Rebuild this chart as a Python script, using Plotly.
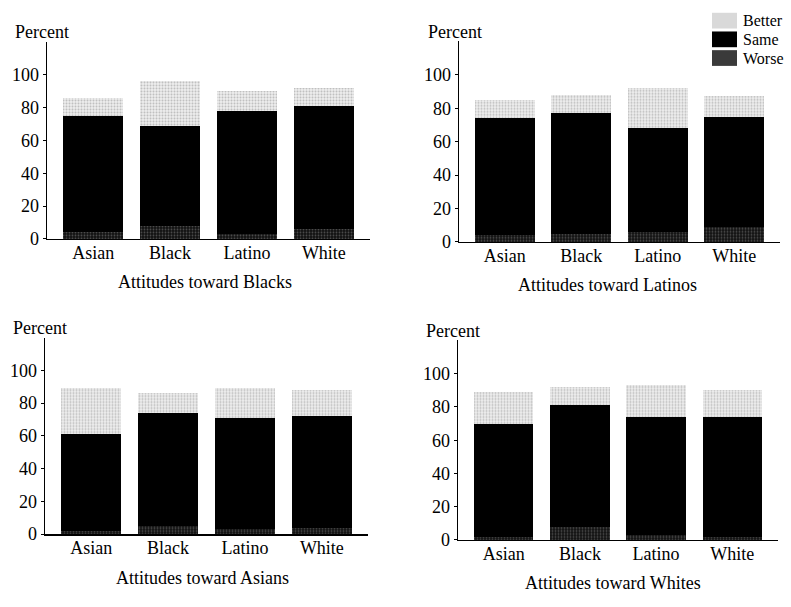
import plotly.graph_objects as go

W, H = 791, 607

groups = ["Asian", "Black", "Latino", "White"]
panel_titles = ["Attitudes toward Blacks", "Attitudes toward Latinos",
                "Attitudes toward Asians", "Attitudes toward Whites"]
legend_labels = ["Better", "Same", "Worse"]

# Segment values (percent) per panel, in order of groups
worse_blacks = [4, 8, 3, 6]
same_blacks = [71, 61, 75, 75]
better_blacks = [11, 27, 12, 11]

worse_latinos = [4, 5, 6, 9]
same_latinos = [70, 72, 62, 66]
better_latinos = [11, 11, 24, 12]

worse_asians = [2, 5, 3, 4]
same_asians = [59, 69, 68, 68]
better_asians = [28, 12, 18, 16]

worse_whites = [2, 8, 3, 2]
same_whites = [68, 73, 71, 72]
better_whites = [19, 11, 19, 16]

y_ticks = [0, 20, 40, 60, 80, 100]

panels = [
    (worse_blacks, same_blacks, better_blacks),
    (worse_latinos, same_latinos, better_latinos),
    (worse_asians, same_asians, better_asians),
    (worse_whites, same_whites, better_whites),
]

# layout geometry in pixels: (x_left, x_right, y_zero, y_100)
geom = [
    (47, 370, 243, 76),
    (459, 780, 246, 76),
    (45, 368, 543, 376.5),
    (458, 778, 549, 380),
]
percent_pos = [(13, 33), (426, 33), (11, 333), (424, 337)]
title_pos = [(205, 287), (607, 290), (202, 588), (613, 593)]

FONT = "Liberation Serif"

BETTER_C = "#f0f0f0"
SAME_C = "#000000"
WORSE_C = "#111111"


def px(x):
    return x / W


def py(y):
    return 1 - y / H


fig = go.Figure()

better_pat = dict(shape=".", fgcolor="#8a8a8a", bgcolor=BETTER_C, size=3, solidity=0.4)
worse_pat = dict(shape=".", fgcolor="#8c8c8c", bgcolor=WORSE_C, size=3, solidity=0.3)

for i, (worse, same, better) in enumerate(panels):
    xa = "x" if i == 0 else f"x{i+1}"
    ya = "y" if i == 0 else f"y{i+1}"
    fig.add_trace(go.Bar(x=groups, y=worse, name="Worse", xaxis=xa, yaxis=ya,
                         marker=dict(color=WORSE_C, pattern=worse_pat, line=dict(width=0)),
                         showlegend=False, width=0.78))
    fig.add_trace(go.Bar(x=groups, y=same, name="Same", xaxis=xa, yaxis=ya,
                         marker=dict(color=SAME_C, line=dict(width=0)),
                         showlegend=False, width=0.78))
    fig.add_trace(go.Bar(x=groups, y=better, name="Better", xaxis=xa, yaxis=ya,
                         marker=dict(color=BETTER_C, pattern=better_pat, line=dict(width=0)),
                         showlegend=False, width=0.78))

layout = dict(
    width=W, height=H,
    margin=dict(l=0, r=0, t=0, b=0),
    paper_bgcolor="white", plot_bgcolor="white",
    barmode="stack", bargap=0.22,
    font=dict(family=FONT, size=18, color="black"),
    showlegend=False,
)

annotations = []
shapes = []
for i, (xl, xr, y0, y100) in enumerate(geom):
    k = "" if i == 0 else str(i + 1)
    per = (y0 - y100) / 100.0
    ytop = y0 - 120 * per
    layout[f"xaxis{k}"] = dict(
        domain=[px(xl), px(xr)], anchor=f"y{k}" if k else "y",
        type="category", range=[-0.6, 3.6],
        showline=True, linecolor="black", linewidth=1.5,
        ticks="", showgrid=False, zeroline=False,
        tickfont=dict(size=18, family=FONT), ticklabelstandoff=-3,
        fixedrange=True,
    )
    layout[f"yaxis{k}"] = dict(
        domain=[py(y0), py(ytop)], anchor=f"x{k}" if k else "x",
        range=[0, 120], tickvals=y_ticks,
        showline=True, linecolor="black", linewidth=1.5,
        ticks="outside", ticklen=3, tickcolor="black",
        showgrid=False, zeroline=False,
        tickfont=dict(size=18, family=FONT),
        fixedrange=True,
    )
    annotations.append(dict(text="Percent", x=px(percent_pos[i][0]), y=py(percent_pos[i][1]),
                            xref="paper", yref="paper", xanchor="left", yanchor="middle",
                            showarrow=False, font=dict(size=18, family=FONT)))
    annotations.append(dict(text=panel_titles[i], x=px(title_pos[i][0]), y=py(title_pos[i][1]),
                            xref="paper", yref="paper", xanchor="center", yanchor="middle",
                            showarrow=False, font=dict(size=18, family=FONT)))

# custom legend (top right)
leg_rows = [21, 40, 59]
leg_fill = ["#d9d9d9", SAME_C, "#3a3a3a"]
for lab, yc, fc in zip(legend_labels, leg_rows, leg_fill):
    shapes.append(dict(type="rect", xref="paper", yref="paper",
                       x0=px(712), x1=px(737), y0=py(yc - 8), y1=py(yc + 8),
                       fillcolor=fc, line=dict(width=0)))
    annotations.append(dict(text=lab, x=px(742), y=py(yc), xref="paper", yref="paper",
                            xanchor="left", yanchor="middle", showarrow=False,
                            borderpad=0, font=dict(size=16, family=FONT)))

layout["annotations"] = annotations
layout["shapes"] = shapes
fig.update_layout(**layout)

fig.write_html(
    "out.html",
    config={"displayModeBar": False, "staticPlot": True},
    post_script="document.body.style.margin='0';document.body.style.overflow='hidden';",
)
